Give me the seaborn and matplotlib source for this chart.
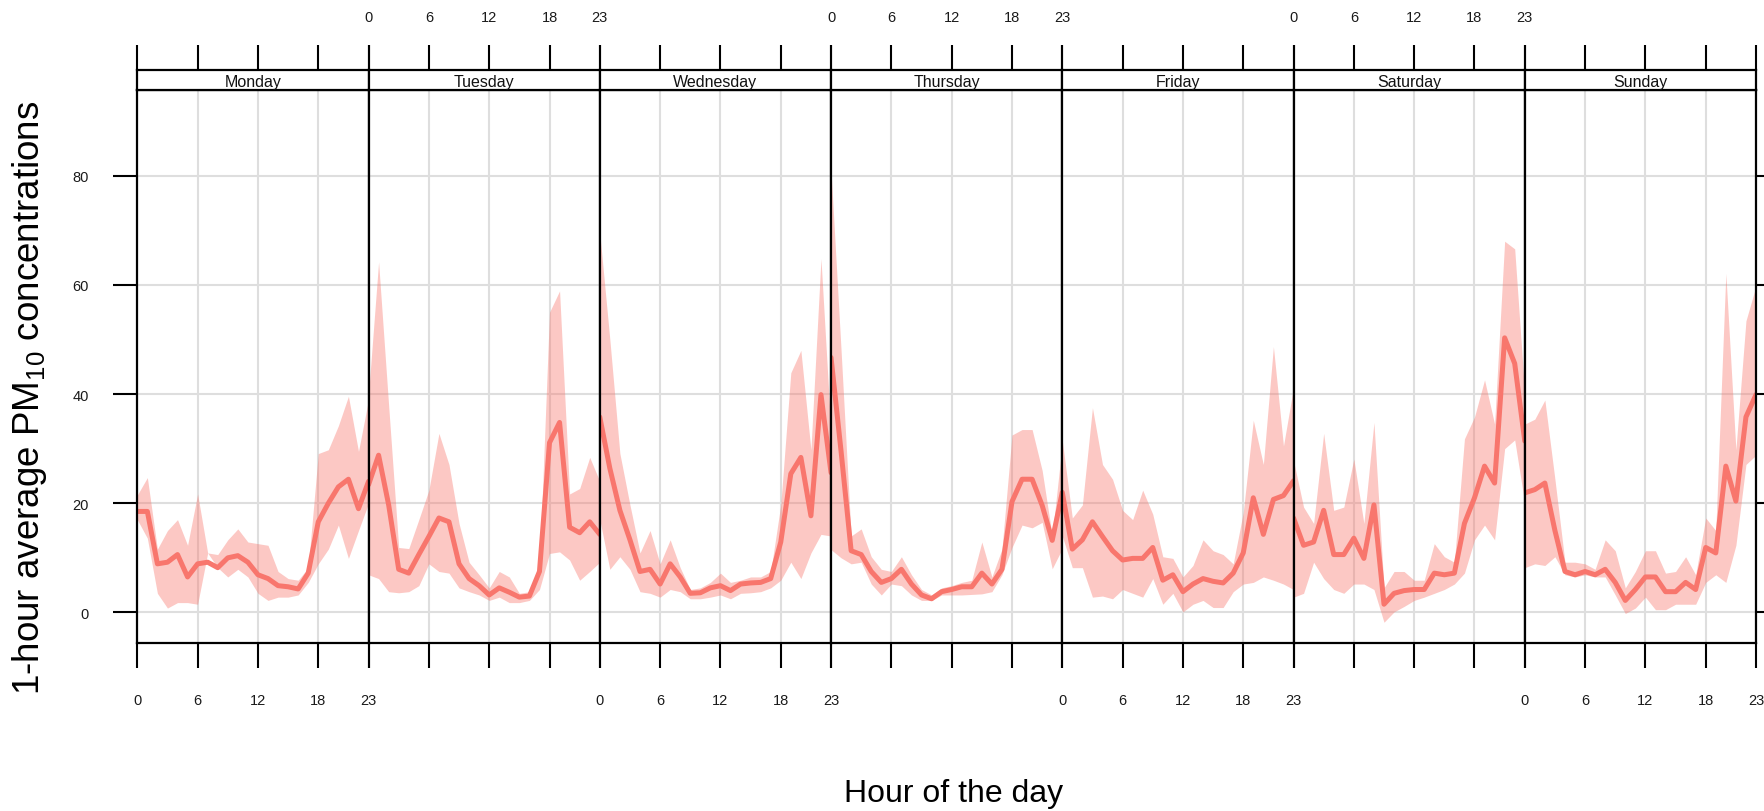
import numpy as np
import pandas as pd
import matplotlib
matplotlib.use("Agg")
import matplotlib.pyplot as plt
import seaborn as sns

# ---- data: hourly mean PM10 with lower / upper confidence limits ----
days = ["Monday", "Tuesday", "Wednesday", "Thursday", "Friday", "Saturday", "Sunday"]
hours = list(range(24))
hour_ticks = [0, 6, 12, 18, 23]
y_ticks = [0, 20, 40, 60, 80]

mon_mean = [18.5, 18.5, 8.9, 9.2, 10.6, 6.5, 8.9, 9.2, 8.2, 10.0, 10.4, 9.2,
            6.9, 6.2, 4.9, 4.7, 4.3, 7.2, 16.6, 20.0, 23.0, 24.4, 19.0, 24.0]
mon_lo = [17.0, 13.6, 3.5, 0.8, 1.8, 1.8, 1.5, 10.9, 8.2, 6.5, 7.9, 6.5,
          3.5, 2.2, 2.8, 2.8, 3.2, 5.5, 8.9, 11.6, 16.0, 9.9, 15.0, 20.0]
mon_hi = [21.5, 24.7, 11.6, 15.0, 17.0, 12.3, 21.7, 10.9, 10.6, 13.3, 15.3, 12.9,
          12.6, 12.3, 7.5, 6.2, 5.9, 8.2, 29.1, 29.8, 34.2, 39.6, 29.5, 39.0]

tue_mean = [23.4, 28.8, 19.7, 7.9, 7.2, 10.6, 13.9, 17.3, 16.6, 8.9, 6.2, 4.9,
            3.2, 4.5, 3.7, 2.8, 3.0, 7.5, 31.1, 34.8, 15.6, 14.6, 16.6, 14.3]
tue_lo = [6.9, 6.2, 3.8, 3.6, 3.8, 4.9, 8.9, 7.5, 7.2, 4.5, 3.8, 3.2,
          2.2, 2.8, 1.8, 1.8, 2.2, 4.2, 10.8, 11.1, 9.6, 5.9, 7.5, 9.2]
tue_hi = [40.0, 64.2, 37.9, 11.9, 11.7, 17.0, 22.4, 32.8, 27.1, 16.3, 9.2, 6.9,
          4.5, 7.5, 6.5, 3.5, 3.8, 8.2, 55.0, 58.9, 21.7, 22.7, 28.4, 24.0]

wed_mean = [35.8, 26.4, 18.7, 13.3, 7.5, 7.9, 5.2, 8.9, 6.5, 3.5, 3.6, 4.5,
            4.9, 4.0, 5.2, 5.4, 5.5, 6.2, 12.9, 25.4, 28.4, 17.7, 39.9, 25.6]
wed_lo = [17.0, 7.9, 10.2, 7.9, 3.8, 3.5, 2.8, 4.2, 3.8, 2.5, 2.5, 2.8,
          3.2, 2.5, 3.5, 3.6, 3.8, 4.5, 5.9, 9.2, 6.2, 10.9, 14.3, 14.0]
wed_hi = [69.5, 50.0, 29.1, 19.7, 10.9, 15.0, 8.9, 13.3, 8.2, 4.2, 4.5, 5.5,
          7.2, 5.5, 5.9, 6.5, 6.5, 7.5, 19.7, 43.9, 48.0, 29.8, 64.8, 33.0]

thu_mean = [46.7, 29.5, 11.3, 10.6, 7.5, 5.5, 6.2, 7.9, 5.2, 3.2, 2.5, 3.8,
            4.2, 4.7, 4.7, 7.2, 5.2, 7.9, 20.3, 24.4, 24.4, 19.6, 13.2, 22.0]
thu_lo = [11.5, 10.0, 8.9, 9.2, 5.2, 3.2, 5.2, 4.9, 3.2, 2.2, 2.2, 3.2,
          3.2, 3.2, 3.3, 3.4, 3.8, 6.9, 11.9, 16.0, 15.5, 16.5, 8.0, 11.7]
thu_hi = [81.0, 48.0, 14.0, 15.3, 10.2, 7.9, 7.5, 10.2, 6.9, 4.2, 3.2, 4.5,
          4.9, 5.5, 5.9, 12.9, 6.5, 11.6, 32.5, 33.5, 33.5, 26.0, 14.0, 31.0]

fri_mean = [22.0, 11.6, 13.3, 16.6, 13.9, 11.3, 9.6, 9.9, 9.9, 11.9, 5.9, 6.9,
            3.8, 5.2, 6.2, 5.7, 5.4, 7.2, 10.9, 21.0, 14.3, 20.7, 21.4, 24.1]
fri_lo = [14.0, 8.2, 8.2, 2.8, 3.0, 2.5, 4.2, 3.5, 2.8, 6.2, 1.5, 3.5,
          0.1, 1.5, 2.2, 0.9, 0.9, 3.8, 5.2, 5.5, 6.5, 5.9, 5.2, 4.2]
fri_hi = [31.5, 17.3, 19.7, 37.5, 27.1, 24.4, 18.7, 17.0, 22.4, 18.0, 10.2, 9.9,
          6.5, 8.6, 13.3, 11.3, 10.6, 8.9, 18.3, 35.2, 27.1, 48.7, 30.5, 41.2]

sat_mean = [17.3, 12.3, 12.9, 18.7, 10.6, 10.6, 13.6, 9.9, 19.7, 1.5, 3.5, 4.0,
            4.2, 4.2, 7.2, 6.9, 7.2, 16.3, 21.0, 26.8, 23.7, 50.3, 45.6, 31.4]
sat_lo = [2.8, 3.5, 9.2, 6.2, 4.2, 3.5, 5.2, 5.2, 4.2, -1.8, 0.1, 1.1,
          2.2, 2.8, 3.5, 4.2, 5.2, 7.2, 13.3, 16.0, 13.3, 30.0, 31.6, 20.0]
sat_hi = [27.8, 19.3, 16.3, 32.8, 18.7, 19.3, 28.1, 16.3, 34.8, 4.5, 7.5, 7.5,
          5.9, 5.9, 12.6, 10.2, 9.2, 31.8, 35.8, 42.6, 34.5, 68.0, 66.6, 40.0]

sun_mean = [21.9, 22.5, 23.7, 15.0, 7.5, 6.9, 7.5, 6.9, 7.9, 5.5, 2.2, 4.2,
            6.5, 6.5, 3.8, 3.8, 5.5, 4.2, 11.9, 10.9, 26.8, 20.4, 35.8, 39.9]
sun_lo = [8.2, 8.9, 8.6, 10.2, 6.9, 6.5, 6.9, 6.5, 6.5, 3.2, -0.2, 0.8,
          2.8, 0.5, 0.5, 1.5, 1.5, 1.5, 5.5, 6.9, 5.5, 12.3, 27.1, 28.8]
sun_hi = [34.5, 35.4, 38.9, 24.4, 9.2, 9.2, 8.9, 7.9, 13.3, 11.3, 4.5, 7.5,
          11.3, 11.3, 7.2, 7.5, 10.2, 6.9, 17.3, 15.0, 62.1, 29.8, 53.4, 59.8]

means = [mon_mean, tue_mean, wed_mean, thu_mean, fri_mean, sat_mean, sun_mean]
lows = [mon_lo, tue_lo, wed_lo, thu_lo, fri_lo, sat_lo, sun_lo]
highs = [mon_hi, tue_hi, wed_hi, thu_hi, fri_hi, sat_hi, sun_hi]

frames = []
for d, m, lo, hi in zip(days, means, lows, highs):
    frames.append(pd.DataFrame({"day": d, "hour": hours, "mean": m, "lower": lo, "upper": hi}))
df = pd.concat(frames, ignore_index=True)

# ---- styling ----
sns.set_theme(style="white")
plt.rcParams["font.family"] = ["Liberation Sans", "DejaVu Sans"]
plt.rcParams["mathtext.fontset"] = "custom"
plt.rcParams["mathtext.rm"] = "Liberation Sans"
plt.rcParams["mathtext.it"] = "Liberation Sans:italic"

LINE_COL = "#f8766d"
GRID_COL = "#dedede"
W, H = 1765, 812
fig = plt.figure(figsize=(W / 100, H / 100), dpi=100)
fig.patch.set_facecolor("white")

left0, right0 = 137.3, 1756.0
pw = (right0 - left0) / 7
p_top, p_bot = 91.0, 644.0
s_top = 71.0
tick_len = 18
tick_w = 1.5
spine_w = 1.6

for i, d in enumerate(days):
    x0 = left0 + i * pw
    ax = fig.add_axes([x0 / W, 1 - p_bot / H, pw / W, (p_bot - p_top) / H])
    sub = df[df["day"] == d]
    ax.fill_between(sub["hour"], sub["lower"], sub["upper"], color=LINE_COL,
                    alpha=0.4, lw=0, zorder=2)
    sns.lineplot(data=sub, x="hour", y="mean", ax=ax, color=LINE_COL, lw=3.6,
                 zorder=3, legend=False)
    ax.set_xlim(0, 23)
    ax.set_ylim(-5.6, 95.7)
    ax.set_xlabel("")
    ax.set_ylabel("")
    ax.set_xticks(hour_ticks)
    ax.set_yticks(y_ticks)
    ax.grid(True, color=GRID_COL, lw=1.5, zorder=0)
    ax.set_axisbelow(True)
    for sp in ax.spines.values():
        sp.set_visible(True)
        sp.set_color("black")
        sp.set_linewidth(spine_w)
        sp.set_zorder(5)

    show_bottom = (i % 2 == 0)
    ax.tick_params(axis="x", which="both", direction="out", length=tick_len,
                   width=tick_w, color="black", bottom=True, top=False,
                   labelbottom=show_bottom, pad=18, labelsize=10.5,
                   labelcolor="#1a1a1a")
    ax.tick_params(axis="y", which="both", direction="out", length=17,
                   width=tick_w, color="black",
                   left=(i == 0), right=(i == 6), labelleft=(i == 0),
                   labelright=False, pad=18, labelsize=10.5, labelcolor="#1a1a1a")

    # strip with day name and top axis ticks
    sax = fig.add_axes([x0 / W, 1 - p_top / H, pw / W, (p_top - s_top) / H])
    sax.set_xlim(0, 23)
    sax.set_ylim(0, 1)
    sax.set_facecolor("white")
    sax.set_yticks([])
    sax.set_xticks(hour_ticks)
    sax.grid(False)
    for sp in sax.spines.values():
        sp.set_visible(True)
        sp.set_color("black")
        sp.set_linewidth(spine_w)
    show_top = (i % 2 == 1)
    sax.tick_params(axis="x", which="both", direction="out", length=tick_len,
                    width=tick_w, color="black", bottom=False, top=True,
                    labelbottom=False, labeltop=show_top, pad=15,
                    labelsize=10.5, labelcolor="#1a1a1a")
    sax.text(11.5, 0.42, d, ha="center", va="center", fontsize=11.5,
             color="#111111")

fig.text(30 / W, 1 - 398 / H, "1-hour average PM$_{10}$ concentrations",
         rotation=90, ha="center", va="center", fontsize=26.5, color="black")
fig.text(954 / W, 1 - 794 / H, "Hour of the day", ha="center", va="center",
         fontsize=23, color="black")

fig.savefig("out.png", dpi=100, facecolor="white")
